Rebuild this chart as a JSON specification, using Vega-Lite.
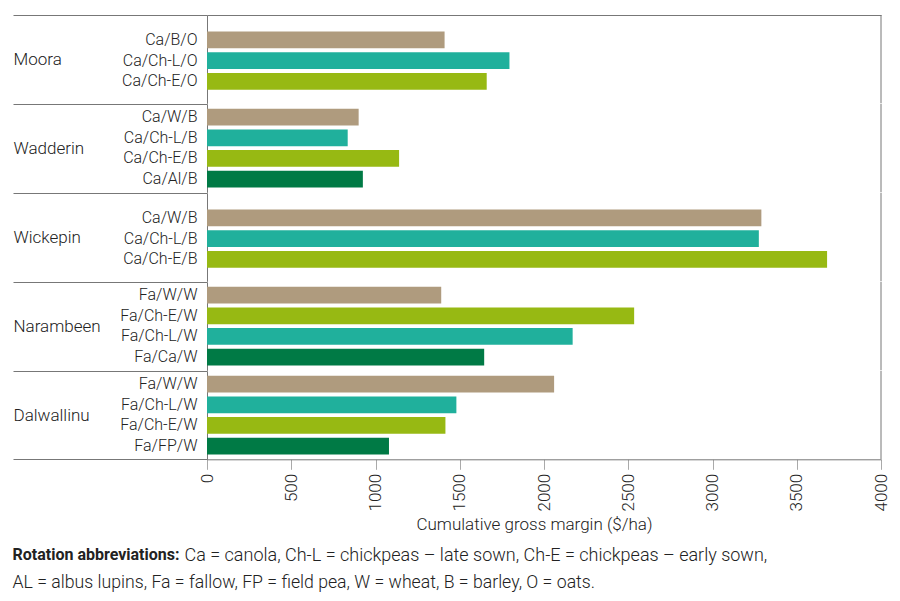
{
  "$schema": "https://vega.github.io/schema/vega-lite/v6.json",
  "padding": {"left": 12, "top": 14, "right": 5, "bottom": 5},
  "background": "white",
  "config": {
    "font": "Roboto",
    "view": {"stroke": null},
    "concat": {"spacing": 0},
    "axis": {"domainColor": "#777", "tickColor": "#777", "labelColor": "#222", "titleColor": "#222", "labelFont": "Roboto", "titleFont": "Roboto", "titleFontWeight": 300, "labelFontWeight": 300, "grid": false, "labelFontSize": 16, "titleFontSize": 17},
    "title": {"font": "Roboto", "fontSize": 17.7, "color": "#222", "fontWeight": 300}
  },
  "data": {"values": [
    {"site": "Moora", "rotation": "Ca/B/O", "type": "Cereal", "value": 1410},
    {"site": "Moora", "rotation": "Ca/Ch-L/O", "type": "Chickpea late", "value": 1795},
    {"site": "Moora", "rotation": "Ca/Ch-E/O", "type": "Chickpea early", "value": 1660},
    {"site": "Wadderin", "rotation": "Ca/W/B", "type": "Cereal", "value": 900},
    {"site": "Wadderin", "rotation": "Ca/Ch-L/B", "type": "Chickpea late", "value": 835},
    {"site": "Wadderin", "rotation": "Ca/Ch-E/B", "type": "Chickpea early", "value": 1140},
    {"site": "Wadderin", "rotation": "Ca/Al/B", "type": "Other", "value": 925},
    {"site": "Wickepin", "rotation": "Ca/W/B", "type": "Cereal", "value": 3290},
    {"site": "Wickepin", "rotation": "Ca/Ch-L/B", "type": "Chickpea late", "value": 3275},
    {"site": "Wickepin", "rotation": "Ca/Ch-E/B", "type": "Chickpea early", "value": 3680},
    {"site": "Narambeen", "rotation": "Fa/W/W", "type": "Cereal", "value": 1390},
    {"site": "Narambeen", "rotation": "Fa/Ch-E/W", "type": "Chickpea early", "value": 2535},
    {"site": "Narambeen", "rotation": "Fa/Ch-L/W", "type": "Chickpea late", "value": 2170},
    {"site": "Narambeen", "rotation": "Fa/Ca/W", "type": "Other", "value": 1645},
    {"site": "Dalwallinu", "rotation": "Fa/W/W", "type": "Cereal", "value": 2060},
    {"site": "Dalwallinu", "rotation": "Fa/Ch-L/W", "type": "Chickpea late", "value": 1480},
    {"site": "Dalwallinu", "rotation": "Fa/Ch-E/W", "type": "Chickpea early", "value": 1415},
    {"site": "Dalwallinu", "rotation": "Fa/FP/W", "type": "Other", "value": 1080}
  ]},
  "title": {"text": "AL = albus lupins, Fa = fallow, FP = field pea, W = wheat, B = barley, O = oats.", "orient": "bottom", "anchor": "start", "offset": 9},
  "vconcat": [
    {
      "title": {"text": "Ca = canola, Ch-L = chickpeas – late sown, Ch-E = chickpeas – early sown,", "orient": "bottom", "anchor": "start", "offset": 0, "dx": 172, "dy": -16, "fontSize": 18},
      "bounds": "flush",
      "vconcat": [
        {
          "width": 674, "height": 88.3,
          "layer": [
            {
              "transform": [{"filter": "datum.site === 'Moora'"}],
              "mark": {"type": "bar"},
              "encoding": {
                "y": {"field": "rotation", "type": "nominal", "sort": null,
                  "scale": {"paddingInner": 0.19, "paddingOuter": 0.72, "align": 0.55},
                  "axis": {"orient": "left", "title": "Moora", "titleAngle": 0, "titleAlign": "left", "titleBaseline": "middle", "titleX": -194, "titleY": 44, "ticks": false, "labelPadding": 10}},
                "x": {"field": "value", "type": "quantitative", "scale": {"domain": [0, 4000]},
                  "axis": {"orient": "top", "labels": false, "ticks": false, "title": null, "domain": true}},
                "color": {"field": "type", "type": "nominal", "legend": null,
                  "scale": {"domain": ["Cereal", "Chickpea late", "Chickpea early", "Other"], "range": ["#AF9B7E", "#20B09C", "#97B913", "#007A45"]}}
              }
            },
            {
              "data": {"values": [{}]},
              "mark": {"type": "rule", "strokeOpacity": 0},
              "encoding": {"y": {"datum": 1, "type": "quantitative", "scale": {"domain": [0, 1]},
                "axis": {"orient": "left", "values": [1], "tickSize": 194, "labels": false, "domain": false, "title": null}}}
            },
            {
              "data": {"values": [{}]},
              "mark": {"type": "rule", "color": "#777"},
              "encoding": {"x": {"datum": 4000, "type": "quantitative"}}
            }
          ],
          "resolve": {"scale": {"y": "independent"}, "axis": {"y": "independent"}}
        },
        {
          "width": 674, "height": 88.3,
          "layer": [
            {
              "transform": [{"filter": "datum.site === 'Wadderin'"}],
              "mark": {"type": "bar"},
              "encoding": {
                "y": {"field": "rotation", "type": "nominal", "sort": null,
                  "scale": {"paddingInner": 0.19, "paddingOuter": 0.23, "align": 0.5},
                  "axis": {"orient": "left", "title": "Wadderin", "titleAngle": 0, "titleAlign": "left", "titleBaseline": "middle", "titleX": -194, "titleY": 44, "ticks": false, "labelPadding": 10}},
                "x": {"field": "value", "type": "quantitative", "scale": {"domain": [0, 4000]}, "axis": null},
                "color": {"field": "type", "type": "nominal", "legend": null,
                  "scale": {"domain": ["Cereal", "Chickpea late", "Chickpea early", "Other"], "range": ["#AF9B7E", "#20B09C", "#97B913", "#007A45"]}}
              }
            },
            {
              "data": {"values": [{}]},
              "mark": {"type": "rule", "strokeOpacity": 0},
              "encoding": {"y": {"datum": 1, "type": "quantitative", "scale": {"domain": [0, 1]},
                "axis": {"orient": "left", "values": [1], "tickSize": 194, "labels": false, "domain": false, "title": null}}}
            },
            {
              "data": {"values": [{}]},
              "mark": {"type": "rule", "color": "#777"},
              "encoding": {"x": {"datum": 4000, "type": "quantitative"}}
            }
          ],
          "resolve": {"scale": {"y": "independent"}, "axis": {"y": "independent"}}
        },
        {
          "width": 674, "height": 88.3,
          "layer": [
            {
              "transform": [{"filter": "datum.site === 'Wickepin'"}],
              "mark": {"type": "bar"},
              "encoding": {
                "y": {"field": "rotation", "type": "nominal", "sort": null,
                  "scale": {"paddingInner": 0.19, "paddingOuter": 0.72, "align": 0.55},
                  "axis": {"orient": "left", "title": "Wickepin", "titleAngle": 0, "titleAlign": "left", "titleBaseline": "middle", "titleX": -194, "titleY": 44, "ticks": false, "labelPadding": 10}},
                "x": {"field": "value", "type": "quantitative", "scale": {"domain": [0, 4000]}, "axis": null},
                "color": {"field": "type", "type": "nominal", "legend": null,
                  "scale": {"domain": ["Cereal", "Chickpea late", "Chickpea early", "Other"], "range": ["#AF9B7E", "#20B09C", "#97B913", "#007A45"]}}
              }
            },
            {
              "data": {"values": [{}]},
              "mark": {"type": "rule", "strokeOpacity": 0},
              "encoding": {"y": {"datum": 1, "type": "quantitative", "scale": {"domain": [0, 1]},
                "axis": {"orient": "left", "values": [1], "tickSize": 194, "labels": false, "domain": false, "title": null}}}
            },
            {
              "data": {"values": [{}]},
              "mark": {"type": "rule", "color": "#777"},
              "encoding": {"x": {"datum": 4000, "type": "quantitative"}}
            }
          ],
          "resolve": {"scale": {"y": "independent"}, "axis": {"y": "independent"}}
        },
        {
          "width": 674, "height": 88.3,
          "layer": [
            {
              "transform": [{"filter": "datum.site === 'Narambeen'"}],
              "mark": {"type": "bar"},
              "encoding": {
                "y": {"field": "rotation", "type": "nominal", "sort": null,
                  "scale": {"paddingInner": 0.19, "paddingOuter": 0.23, "align": 0.5},
                  "axis": {"orient": "left", "title": "Narambeen", "titleAngle": 0, "titleAlign": "left", "titleBaseline": "middle", "titleX": -194, "titleY": 44, "ticks": false, "labelPadding": 10}},
                "x": {"field": "value", "type": "quantitative", "scale": {"domain": [0, 4000]}, "axis": null},
                "color": {"field": "type", "type": "nominal", "legend": null,
                  "scale": {"domain": ["Cereal", "Chickpea late", "Chickpea early", "Other"], "range": ["#AF9B7E", "#20B09C", "#97B913", "#007A45"]}}
              }
            },
            {
              "data": {"values": [{}]},
              "mark": {"type": "rule", "strokeOpacity": 0},
              "encoding": {"y": {"datum": 1, "type": "quantitative", "scale": {"domain": [0, 1]},
                "axis": {"orient": "left", "values": [1], "tickSize": 194, "labels": false, "domain": false, "title": null}}}
            },
            {
              "data": {"values": [{}]},
              "mark": {"type": "rule", "color": "#777"},
              "encoding": {"x": {"datum": 4000, "type": "quantitative"}}
            }
          ],
          "resolve": {"scale": {"y": "independent"}, "axis": {"y": "independent"}}
        },
        {
          "width": 674, "height": 88.3,
          "title": {"text": "Rotation abbreviations:", "orient": "bottom", "anchor": "start", "fontWeight": "bold", "fontSize": 16, "offset": 15},
          "layer": [
            {
              "transform": [{"filter": "datum.site === 'Dalwallinu'"}],
              "mark": {"type": "bar"},
              "encoding": {
                "y": {"field": "rotation", "type": "nominal", "sort": null,
                  "scale": {"paddingInner": 0.19, "paddingOuter": 0.23, "align": 0.5},
                  "axis": {"orient": "left", "title": "Dalwallinu", "titleAngle": 0, "titleAlign": "left", "titleBaseline": "middle", "titleX": -194, "titleY": 44, "ticks": false, "labelPadding": 10}},
                "x": {"field": "value", "type": "quantitative", "scale": {"domain": [0, 4000]},
                  "axis": {"orient": "bottom", "values": [0, 500, 1000, 1500, 2000, 2500, 3000, 3500, 4000], "format": "d", "labelAngle": -90, "tickSize": 10, "tickColor": "#aaa", "labelFontSize": 17, "labelPadding": 4, "title": "Cumulative gross margin ($/ha)", "titlePadding": 5, "titleX": 327}},
                "color": {"field": "type", "type": "nominal", "legend": null,
                  "scale": {"domain": ["Cereal", "Chickpea late", "Chickpea early", "Other"], "range": ["#AF9B7E", "#20B09C", "#97B913", "#007A45"]}}
              }
            },
            {
              "data": {"values": [{}]},
              "mark": {"type": "rule", "strokeOpacity": 0},
              "encoding": {"y": {"datum": 1, "type": "quantitative", "scale": {"domain": [0, 1]},
                "axis": {"orient": "left", "values": [0, 1], "tickSize": 194, "labels": false, "domain": false, "title": null}}}
            },
            {
              "data": {"values": [{}]},
              "mark": {"type": "rule", "color": "#777"},
              "encoding": {"x": {"datum": 4000, "type": "quantitative"}}
            }
          ],
          "resolve": {"scale": {"y": "independent"}, "axis": {"y": "independent"}}
        }
      ]
    }
  ]
}
